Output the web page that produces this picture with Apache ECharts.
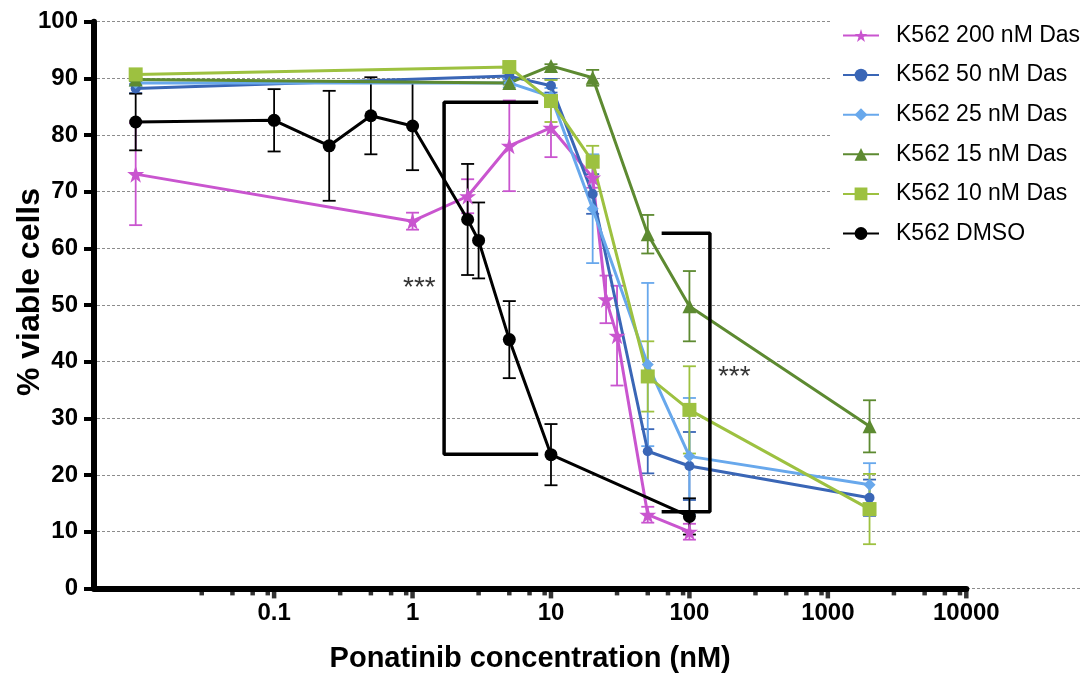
<!DOCTYPE html>
<html>
<head>
<meta charset="utf-8">
<script src="https://cdn.jsdelivr.net/npm/echarts@6/dist/echarts.min.js"></script>
<style>
html,body{margin:0;padding:0;background:#fff;}
#chart{width:1082px;height:676px;}
</style>
</head>
<body>
<div id="chart"></div>
<script>
// ---------- data ----------
const seriesNames = ['K562 200 nM Das','K562 50 nM Das','K562 25 nM Das','K562 15 nM Das','K562 10 nM Das','K562 DMSO'];

const concDas200 = [0.01, 1, 2.5, 5, 10, 20, 25, 30, 50, 100];
const viaDas200  = [73.1, 64.8, 69.2, 78.1, 81.3, 72.5, 51.0, 44.6, 13.0, 10.0];
const errDas200  = [9.0, 1.5, 3.0, 8.0, 5.2, 1.8, 4.2, 8.8, 1.4, 1.4];

const concDas50 = [0.01, 5, 10, 20, 50, 100, 2000];
const viaDas50  = [88.2, 90.4, 88.7, 69.6, 24.2, 21.6, 16.0];
const errDas50  = [0.8, 0.5, 1.2, 3.5, 3.9, 6.0, 3.2];

const concDas25 = [0.01, 5, 10, 20, 50, 100, 2000];
const viaDas25  = [89.2, 89.2, 86.8, 67.0, 39.5, 23.3, 18.3];
const errDas25  = [0.5, 0.8, 1.5, 9.6, 14.4, 10.3, 3.8];

const concDas15 = [0.01, 5, 10, 20, 50, 100, 2000];
const viaDas15  = [89.8, 89.2, 92.2, 90.1, 62.5, 49.8, 28.6];
const errDas15  = [0.3, 0.3, 0.3, 1.4, 3.4, 6.2, 4.6];

const concDas10 = [0.01, 5, 10, 20, 50, 100, 2000];
const viaDas10  = [90.7, 92.0, 86.0, 75.3, 37.4, 31.5, 14.0];
const errDas10  = [0.5, 0.5, 3.7, 2.8, 6.2, 7.7, 6.2];

const concDMSO = [0.01, 0.1, 0.25, 0.5, 1, 2.5, 3, 5, 10, 100];
const viaDMSO  = [82.3, 82.6, 78.1, 83.4, 81.6, 65.1, 61.4, 43.9, 23.6, 12.7];
const errDMSO  = [5.0, 5.5, 9.7, 6.8, 7.8, 9.8, 6.7, 6.8, 5.4, 3.2];

// axis ticks
const xMajorTicks = [0.1, 1, 10, 100, 1000, 10000];
const xMinorTicks = [0.03,0.05,0.07,0.09, 0.3,0.5,0.7,0.9, 3,5,7,9, 30,50,70,90, 300,500,700,900, 3000,5000,7000,9000];

// significance brackets (data coords) and labels
const bracketLeft  = [[8.08, 85.8], [1.69, 85.8], [1.69, 23.66], [8.08, 23.66]];
const bracketRight = [[63, 62.66], [140.6, 62.66], [140.6, 13.53], [63, 13.53]];
const sigLabels = [[1.12, 53.0, '***'], [211, 37.2, '***']];

// ---------- styling ----------
const colors = ['#C955CF', '#3A66B6', '#68A8EC', '#5D8A31', '#9DC140', '#000000'];
const STAR = 'path://M50,0 L61.8,35.3 L99,35.3 L69,57.6 L80.3,92.7 L50,71 L19.7,92.7 L31,57.6 L1,35.3 L38.2,35.3 Z';
const symbols = [STAR, 'circle', 'diamond', 'triangle', 'rect', 'circle'];
const symbolSizes = [17, 10, 12, 14, 14, 13];

const allConc = [concDas200, concDas50, concDas25, concDas15, concDas10, concDMSO];
const allVia  = [viaDas200, viaDas50, viaDas25, viaDas15, viaDas10, viaDMSO];
const allErr  = [errDas200, errDas50, errDas25, errDas15, errDas10, errDMSO];

const FONT = 'Liberation Sans, Arial, sans-serif';

function errRenderer(color){
  return function(params, api){
    const x = api.value(0), lo = api.value(1), hi = api.value(2);
    const a = api.coord([x, lo]), b = api.coord([x, hi]);
    const w = 6.5;
    const st = {stroke: color, lineWidth: 1.8};
    return {type:'group', children:[
      {type:'line', shape:{x1:a[0],y1:a[1],x2:b[0],y2:b[1]}, style:st},
      {type:'line', shape:{x1:a[0]-w,y1:a[1],x2:a[0]+w,y2:a[1]}, style:st},
      {type:'line', shape:{x1:b[0]-w,y1:b[1],x2:b[0]+w,y2:b[1]}, style:st}
    ]};
  };
}

const series = [];
for (let i = 0; i < 6; i++) {
  series.push({
    type:'custom', name: seriesNames[i] + ' err', xAxisIndex:1, yAxisIndex:1,
    renderItem: errRenderer(colors[i]), silent:true, z:3,
    encode:{x:0, y:[1,2]},
    data: allConc[i].map((c, k) => [c, allVia[i][k] - allErr[i][k], allVia[i][k] + allErr[i][k]])
  });
}
for (let i = 0; i < 6; i++) {
  series.push({
    type:'line', name: seriesNames[i], xAxisIndex:1, yAxisIndex:1,
    data: allConc[i].map((c, k) => [c, allVia[i][k]]),
    symbol: symbols[i], symbolSize: symbolSizes[i], showAllSymbol:true,
    lineStyle:{color: colors[i], width:3},
    itemStyle:{color: colors[i]},
    z: 4 + (i === 5 ? 1 : 0), silent:true
  });
}
[bracketLeft, bracketRight].forEach(b => series.push({
  type:'line', xAxisIndex:1, yAxisIndex:1, data:b, symbol:'none',
  lineStyle:{color:'#000', width:3.5}, silent:true, z:6, clip:false
}));
series.push({
  type:'scatter', xAxisIndex:1, yAxisIndex:1, symbolSize:0, silent:true, z:6,
  data: sigLabels.map(s => ({value:[s[0], s[1]], name:s[2]})),
  label:{show:true, position:'inside', formatter: p => p.name, color:'#000', fontSize:28, fontFamily:FONT}
});
series.push({
  type:'scatter', xAxisIndex:1, yAxisIndex:1, silent:true, z:7, clip:false,
  symbol:'rect', symbolSize:[4.5, 10], symbolOffset:[0, 5],
  itemStyle:{color:'#000'},
  data: xMajorTicks.map(v => [v, 0])
});
series.push({
  type:'scatter', xAxisIndex:1, yAxisIndex:1, silent:true, z:7, clip:false,
  symbol:'rect', symbolSize:[4.5, 7], symbolOffset:[0, 3.5],
  itemStyle:{color:'#000'},
  data: xMinorTicks.map(v => [v, 0])
});

const chart = echarts.init(document.getElementById('chart'), null, {renderer:'canvas'});
chart.setOption({
  animation:false,
  backgroundColor:'#fff',
  grid:[
    {left:97, right:0, top:21.7, bottom:87.6, containLabel:false, outerBoundsMode:'none'},
    {left:94, right:115.7, top:21.7, bottom:87.6, containLabel:false, outerBoundsMode:'none'}
  ],
  xAxis:[
    {gridIndex:0, type:'value', min:0, max:1, show:false},
    {gridIndex:1, type:'log', logBase:10, min:0.005, max:10000,
     axisLine:{show:true, lineStyle:{color:'#000', width:6}},
     axisTick:{show:false}, splitLine:{show:false}, minorTick:{show:false},
     axisLabel:{color:'#000', fontFamily:FONT, fontWeight:'bold', fontSize:24, margin:13,
       formatter: v => { if (v < 0.05) return ''; return v >= 1 ? String(Math.round(v)) : String(+v.toPrecision(3)); }},
     name:'Ponatinib concentration (nM)', nameLocation:'middle', nameGap:56, nameMoveOverlap:false,
     nameTextStyle:{color:'#000', fontFamily:FONT, fontWeight:'bold', fontSize:29}
    }
  ],
  yAxis:[
    {gridIndex:0, type:'value', min:0, max:100, interval:10,
     axisLine:{show:false}, axisTick:{show:false}, axisLabel:{show:false},
     splitLine:{show:true, lineStyle:{color:'#8c8c8c', width:1, type:[3,2]}}},
    {gridIndex:1, type:'value', min:0, max:100, interval:10,
     axisLine:{show:true, lineStyle:{color:'#000', width:6}},
     axisTick:{show:true, length:10, lineStyle:{color:'#000', width:4}},
     splitLine:{show:false},
     axisLabel:{color:'#000', fontFamily:FONT, fontWeight:'bold', fontSize:24, margin:16},
     name:'% viable cells', nameLocation:'middle', nameGap:48, nameRotate:90, nameMoveOverlap:false,
     nameTextStyle:{color:'#000', fontFamily:FONT, fontWeight:'bold', fontSize:32, padding:[0,0,0,26]}
    }
  ],
  legend:{
    data: seriesNames, orient:'vertical', left:830, top:18,
    backgroundColor:'#fff', padding:[6, 10, 10, 12],
    itemWidth:36, itemHeight:16, itemGap:16.6,
    textStyle:{color:'#000', fontFamily:FONT, fontSize:23, lineHeight:23, padding:[0,0,0,12]},
    selectedMode:false
  },
  series: series
});
</script>
</body>
</html>
